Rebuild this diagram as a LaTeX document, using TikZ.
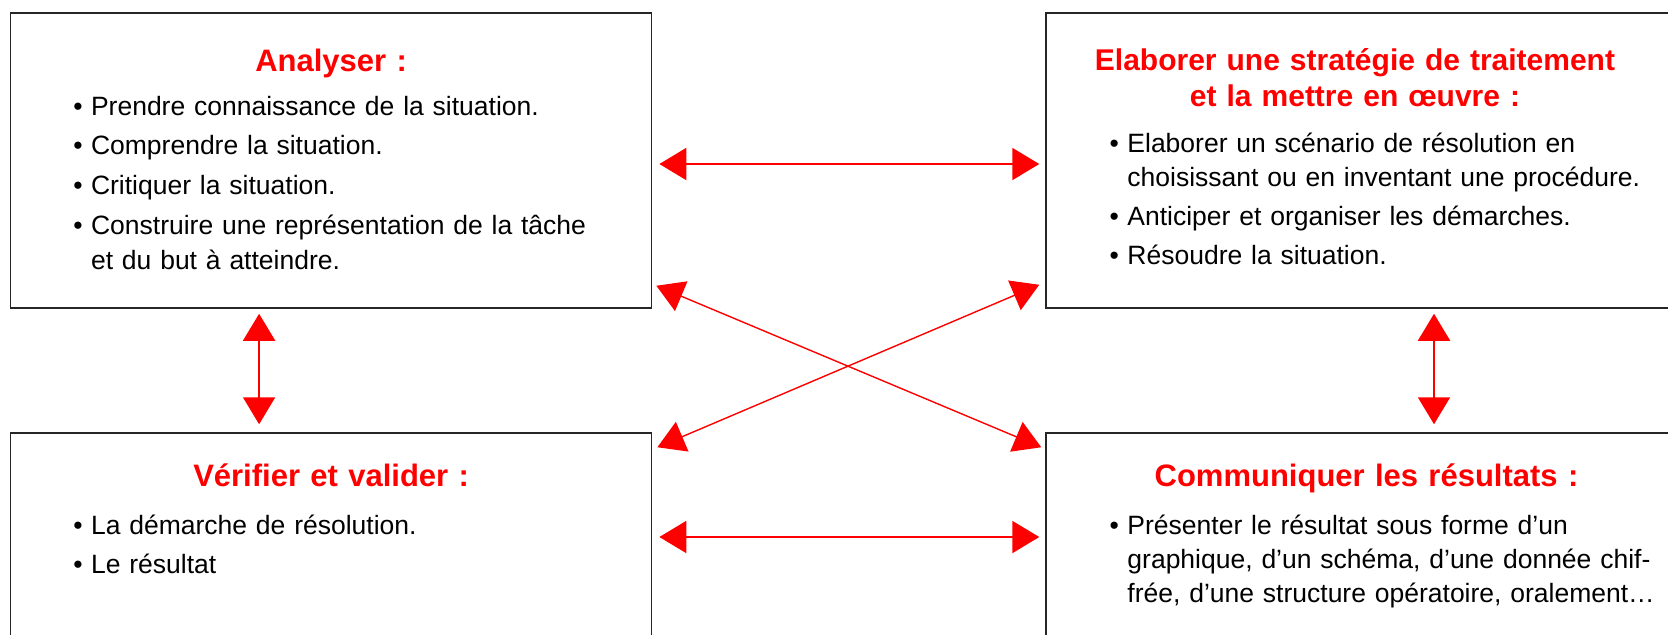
\documentclass[tikz,border=0pt]{standalone}
\usepackage{fontspec}
\setmainfont{Liberation Sans}
\usetikzlibrary{arrows.meta, positioning, calc}

\definecolor{titrerouge}{RGB}{255,0,0}

\newcommand{\puce}{\makebox[8.9pt][l]{\textbullet}}
\newcommand{\suite}{\hspace*{8.9pt}}

\begin{document}
\begin{tikzpicture}[
    x=0.5pt, y=-0.5pt,
    bloc/.style={rectangle, draw=black!85, line width=0.75pt, minimum width=320.5pt, inner sep=0pt},
    titre/.style={anchor=base, inner sep=0pt, text width=310pt, align=center, text=titrerouge, font=\fontsize{15.5}{17.75}\selectfont\bfseries},
    liste/.style={anchor=base west, inner sep=0pt, text width=280pt, align=left, font=\fontsize{13.25}{17}\selectfont},
    fleche/.style={{Triangle[length=13.5pt, width=16pt]}-{Triangle[length=13.5pt, width=16pt]}, draw=titrerouge, line width=1pt},
    croix/.style={fleche, line width=0.7pt},
]

\fill[white] (0,0) rectangle (1668,634);
\clip (0,0) rectangle (1668,634);

% les quatre blocs
\node[bloc, minimum height=147.5pt] (analyser) at (331.1,160.5) {};
\node[bloc, minimum height=147.5pt] (strategie) at (1366.5,160.5) {};
\node[bloc, minimum height=104pt] (verifier) at (331.1,537) {};
\node[bloc, minimum height=104pt] (communiquer) at (1366.5,537) {};

% titres
\node[titre] (t-analyser) at ([shift={(0,59)}]analyser.north) {Analyser :};
\node[titre, font=\fontsize{15}{18}\selectfont\bfseries] (t-strategie) at ([shift={(-11.5,58.5)}]strategie.north) {Elaborer une stratégie de traitement\\et la mettre en œuvre :};
\node[titre] (t-verifier) at ([shift={(0,54)}]verifier.north) {Vérifier et valider :};
\node[titre] (t-communiquer) at ([shift={(0,54)}]communiquer.north) {Communiquer les résultats :};

% listes
\node[liste, font=\fontsize{13.25}{17.5}\selectfont] (l-analyser) at ([shift={(63,103)}]analyser.north west) {%
    \puce Prendre connaissance de la situation.\\[2.35pt]
    \puce Comprendre la situation.\\[2.35pt]
    \puce Critiquer la situation.\\[2.35pt]
    \puce Construire une représentation de la tâche\\
    \suite et du but à atteindre.};
\node[liste] (l-strategie) at ([shift={(64,140)}]strategie.north west) {%
    \puce Elaborer un scénario de résolution en\\
    \suite choisissant ou en inventant une procédure.\\[2.5pt]
    \puce Anticiper et organiser les démarches.\\[2.5pt]
    \puce Résoudre la situation.};
\node[liste] (l-verifier) at ([shift={(63,102)}]verifier.north west) {%
    \puce La démarche de résolution.\\[2.5pt]
    \puce Le résultat};
\node[liste] (l-communiquer) at ([shift={(64,102)}]communiquer.north west) {%
    \puce Présenter le résultat sous forme d’un\\
    \suite graphique, d’un schéma, d’une donnée chif-\\
    \suite frée, d’une structure opératoire, oralement…};

% fleches
\draw[fleche] ([shift={(7,3.5)}]analyser.east) -- ([shift={(-6,3.5)}]strategie.west);
\draw[fleche] ([shift={(7,0)}]verifier.east) -- ([shift={(-6,0)}]communiquer.west);
\draw[fleche] ([shift={(-72,5)}]analyser.south) -- ([shift={(-72,-8)}]verifier.north);
\draw[fleche] ([shift={(67.5,5)}]strategie.south) -- ([shift={(67.5,-8)}]communiquer.north);
\draw[croix] ([shift={(4,-23)}]analyser.south east) -- ([shift={(-4,15)}]communiquer.north west);
\draw[croix] ([shift={(5,15)}]verifier.north east) -- ([shift={(-6,-24)}]strategie.south west);

\end{tikzpicture}
\end{document}
